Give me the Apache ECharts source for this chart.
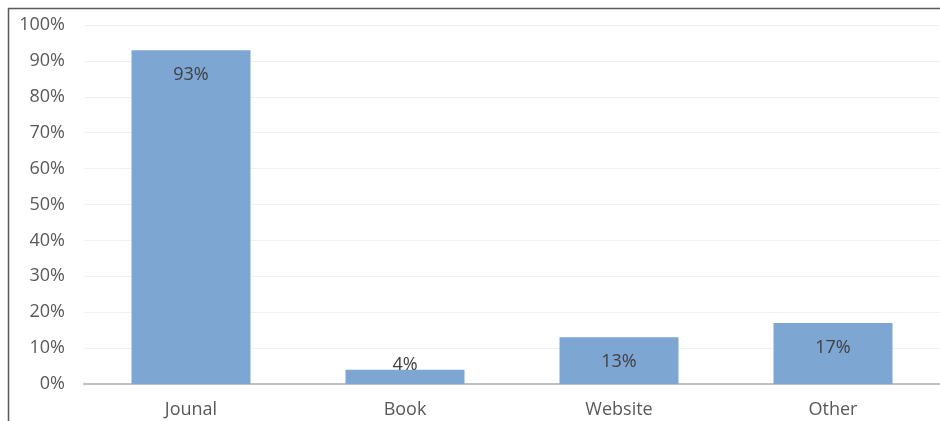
<!DOCTYPE html>
<html><head><meta charset="utf-8">
<script src="https://cdn.jsdelivr.net/npm/echarts@6/dist/echarts.min.js"></script>
<style>html,body{margin:0;padding:0;background:#fff}#c{width:940px;height:421px}</style>
</head><body><div id="c"></div>
<script>
const categories = ['Jounal', 'Book', 'Website', 'Other'];
const values = [93, 4, 13, 17];
const yTicks = [0, 10, 20, 30, 40, 50, 60, 70, 80, 90, 100];

const chart = echarts.init(document.getElementById('c'), null, {renderer: 'canvas'});
const font = '"Open Sans", sans-serif';
chart.setOption({
  animation: false,
  graphic: [{
    type: 'rect', shape: {x: 8.5, y: 8.5, width: 1000, height: 1000},
    style: {fill: 'none', stroke: '#5a5a5a', lineWidth: 1.5}, silent: true, z: 0
  }],
  grid: {left: 84, right: -5, top: 25, bottom: 37, containLabel: false},
  xAxis: {
    type: 'category', data: categories,
    axisLine: {lineStyle: {color: '#bfbfbf', width: 2}},
    axisTick: {show: false},
    axisLabel: {color: '#595959', fontSize: 18, fontFamily: font, margin: 17}
  },
  yAxis: {
    type: 'value', min: yTicks[0], max: yTicks[yTicks.length - 1], interval: 10,
    axisLine: {show: false}, axisTick: {show: false},
    splitLine: {lineStyle: {color: '#f0f0f0', width: 1}},
    axisLabel: {color: '#595959', fontSize: 18, fontFamily: font, margin: 19,
      formatter: v => v + '%'}
  },
  series: [{
    type: 'bar', barWidth: 119,
    itemStyle: {color: '#7ea6d2'},
    data: values.map(v => v < 8
      ? {value: v, label: {position: 'top', distance: -4}}
      : {value: v}),
    label: {show: true, position: 'insideTop', distance: 16,
      color: '#404040', fontSize: 18, fontFamily: font, formatter: p => p.value + '%'}
  }]
});
</script></body></html>
